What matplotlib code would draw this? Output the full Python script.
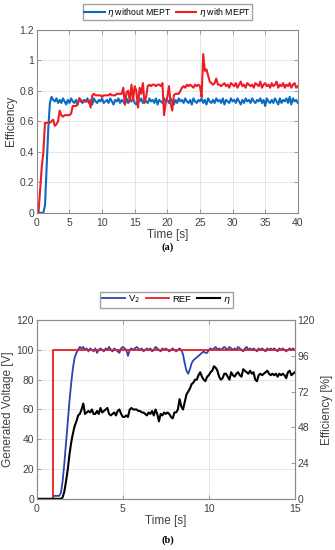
import numpy as np
from matplotlib import pyplot as plt

plt.rcParams['font.family'] = ['Liberation Sans', 'DejaVu Sans']
plt.rcParams['mathtext.fontset'] = 'dejavusans'

# ---- (a) efficiency with / without MEPT, sampled every 0.25 s ----
t_a = np.arange(0, 40.001, 0.25)

eta_without = [
    0, 0, 0, 0, 0, 0.05, 0.30, 0.55,
    0.72, 0.76, 0.74, 0.73, 0.75, 0.72, 0.74, 0.72,
    0.75, 0.73, 0.71, 0.74, 0.72, 0.75, 0.73, 0.72,
    0.74, 0.71, 0.75, 0.73, 0.72, 0.74, 0.73, 0.75,
    0.72, 0.74, 0.71, 0.75, 0.73, 0.72, 0.74, 0.73,
    0.75, 0.72, 0.73, 0.74, 0.72, 0.75, 0.73, 0.71,
    0.74, 0.73, 0.75, 0.72, 0.74, 0.73, 0.71, 0.75,
    0.72, 0.74, 0.73, 0.75, 0.72, 0.71, 0.74, 0.73,
    0.75, 0.72, 0.74, 0.73, 0.72, 0.75, 0.73, 0.74,
    0.72, 0.75, 0.71, 0.74, 0.73, 0.72, 0.75, 0.73,
    0.74, 0.72, 0.75, 0.73, 0.71, 0.74, 0.72, 0.75,
    0.73, 0.74, 0.72, 0.75, 0.73, 0.72, 0.74, 0.71,
    0.75, 0.73, 0.72, 0.74, 0.73, 0.75, 0.72, 0.74,
    0.71, 0.75, 0.73, 0.72, 0.74, 0.72, 0.75, 0.73,
    0.74, 0.72, 0.75, 0.71, 0.74, 0.73, 0.72, 0.75,
    0.73, 0.74, 0.72, 0.75, 0.73, 0.71, 0.74, 0.72,
    0.75, 0.73, 0.74, 0.72, 0.75, 0.73, 0.72, 0.74,
    0.73, 0.75, 0.72, 0.74, 0.70, 0.75, 0.73, 0.72,
    0.74, 0.72, 0.75, 0.73, 0.71, 0.75, 0.72, 0.74,
    0.73, 0.75, 0.72, 0.76, 0.71, 0.75, 0.73, 0.74,
    0.72,
]

eta_with = [
    0, 0, 0.15, 0.30, 0.40, 0.59, 0.59, 0.59,
    0.59, 0.60, 0.61, 0.57, 0.58, 0.60, 0.67, 0.64,
    0.63, 0.64, 0.64, 0.64, 0.64, 0.65, 0.70, 0.70,
    0.70, 0.71, 0.75, 0.74, 0.73, 0.73, 0.73, 0.73,
    0.73, 0.69, 0.77, 0.78, 0.77, 0.77, 0.77, 0.77,
    0.76, 0.77, 0.77, 0.77, 0.77, 0.78, 0.77, 0.77,
    0.77, 0.78, 0.78, 0.78, 0.78, 0.82, 0.71, 0.79,
    0.80, 0.73, 0.84, 0.74, 0.83, 0.80, 0.69, 0.82,
    0.78, 0.85, 0.72, 0.76, 0.83, 0.84, 0.83, 0.84,
    0.84, 0.83, 0.84, 0.84, 0.83, 0.85, 0.64, 0.72,
    0.76, 0.83, 0.72, 0.67, 0.77, 0.78, 0.78, 0.78,
    0.80, 0.82, 0.83, 0.82, 0.84, 0.83, 0.84, 0.83,
    0.82, 0.84, 0.83, 0.84, 0.83, 0.76, 1.04, 0.93,
    0.94, 0.90, 0.86, 0.85, 0.84, 0.85, 0.88, 0.84,
    0.84, 0.83, 0.84, 0.85, 0.83, 0.84, 0.82, 0.85,
    0.84, 0.83, 0.85, 0.82, 0.84, 0.86, 0.83, 0.84,
    0.82, 0.85, 0.84, 0.83, 0.84, 0.82, 0.85, 0.84,
    0.83, 0.86, 0.82, 0.84, 0.85, 0.83, 0.84, 0.82,
    0.85, 0.83, 0.84, 0.86, 0.82, 0.84, 0.83, 0.85,
    0.82, 0.84, 0.83, 0.85, 0.82, 0.84, 0.85, 0.82,
    0.83,
]

# ---- (b) generated voltage / reference / efficiency, sampled every 0.1 s ----
t_b = np.arange(0, 15.001, 0.1)

v2 = [
    0, 0, 0, 0, 0, 0, 0, 0, 0, 0,
    2, 2, 2, 2, 4, 12, 24, 38, 52, 66,
    78, 88, 95, 98, 100, 102, 101, 102, 100, 101,
    99, 101, 100, 99, 101, 98, 100, 101, 100, 99,
    101, 100, 102, 100, 99, 101, 100, 99, 98, 101,
    102, 101, 100, 96, 100, 101, 100, 101, 102, 101,
    100, 101, 99, 100, 101, 100, 101, 99, 100, 102,
    101, 100, 99, 101, 100, 101, 100, 99, 100, 101,
    100, 99, 100, 101, 100, 97, 91, 86, 84, 87,
    91, 93, 94, 95, 96, 97, 98, 99, 98, 98,
    100, 101, 100, 101, 102, 100, 101, 100, 101, 102,
    101, 100, 102, 101, 100, 101, 100, 102, 101, 100,
    99, 101, 102, 100, 101, 100, 101, 100, 99, 101,
    100, 101, 100, 99, 101, 100, 101, 100, 101, 100,
    99, 101, 100, 101, 100, 99, 100, 101, 100, 101,
    100,
]

t_ref = [0, 0.95, 0.95, 15]
v_ref = [0, 0, 100, 100]

eta_b = [
    0, 0, 0, 0, 0, 0, 0, 0, 0, 0,
    0, 0, 0, 0, 0, 1, 5, 12, 20, 30,
    38, 44, 49, 52, 56, 57, 60, 64, 57, 58,
    59, 58, 60, 57, 57, 59, 57, 61, 58, 59,
    60, 61, 57, 56, 57, 58, 56, 59, 60, 57,
    55, 55, 56, 55, 60, 61, 60, 60, 60, 59,
    59, 58, 58, 57, 56, 58, 57, 59, 56, 60,
    57, 52, 57, 56, 58, 57, 58, 57, 55, 54,
    58, 58, 60, 67, 62, 60, 65, 70, 72, 74,
    77, 78, 80, 80, 83, 85, 82, 80, 79, 82,
    83, 85, 86, 89, 88, 86, 82, 80, 81, 84,
    84, 82, 80, 85, 83, 82, 84, 85, 83, 82,
    87, 86, 85, 84, 86, 84, 85, 80, 79, 83,
    84, 83, 84, 85, 86, 84, 83, 84, 83, 84,
    82, 84, 83, 84, 83, 81, 85, 86, 83, 84,
    85,
]

blue_a = '#0a6cc0'
red = '#ee1c25'
blue_b = '#2a45b0'
grid_c = '#e6e6e6'
spine_c = '#8c8c8c'


def style(ax):
    ax.grid(True, color=grid_c, linewidth=0.7)
    ax.set_axisbelow(True)
    for s in ax.spines.values():
        s.set_color(spine_c)
        s.set_linewidth(0.8)
    ax.tick_params(direction='in', length=3, width=0.6, color=spine_c,
                   labelsize=7.5, labelcolor='#404040', pad=2)
    ax.tick_params(axis='x', pad=3.5)


fig = plt.figure(figsize=(3.35, 5.5), dpi=100)

# (a)
ax1 = fig.add_axes([0.110, 0.613, 0.779, 0.333])
ax1.plot(t_a, eta_without, color=blue_a, lw=1.5, label=r'$\eta$ without MEPT')
ax1.plot(t_a, eta_with, color=red, lw=1.5, label=r'$\eta$ with MEPT')
ax1.set_xlim(0, 40)
ax1.set_ylim(0, 1.2)
ax1.set_xticks(np.arange(0, 41, 5))
ax1.set_yticks(np.arange(0, 1.21, 0.2))
ax1.set_yticklabels(['0', '0.2', '0.4', '0.6', '0.8', '1', '1.2'])
style(ax1)
ax1.tick_params(right=True, top=True)
ax1.set_xlabel('Time [s]', fontsize=8.5, color='#404040', labelpad=1)
ax1.set_ylabel('Efficiency', fontsize=8.5, color='#404040', labelpad=2)
fig.legend(loc='center', bbox_to_anchor=(0.5, 0.978), ncol=2, fontsize=6.3,
           frameon=True, fancybox=False, edgecolor='#8c8c8c',
           handlelength=2.3, handletextpad=0.3, columnspacing=0.5,
           borderpad=0.15, labelspacing=0.1)
fig.text(0.5, 0.551, '(a)', ha='center', va='center', fontsize=7.5,
         family='Liberation Serif', fontweight='bold')

# (b)
ax2 = fig.add_axes([0.110, 0.093, 0.770, 0.325])
l1, = ax2.plot(t_b, v2, color=blue_b, lw=1.3, label='V$_2$', zorder=3)
l2, = ax2.plot(t_ref, v_ref, color=red, lw=1.3, label='REF', zorder=4)
ax2.set_xlim(0, 15)
ax2.set_ylim(0, 120)
ax2.set_xticks([0, 5, 10, 15])
ax2.set_yticks(np.arange(0, 121, 20))
style(ax2)
ax2.tick_params(top=True)
ax2.set_xlabel('Time [s]', fontsize=8.5, color='#404040', labelpad=1)
ax2.set_ylabel('Generated Voltage [V]', fontsize=8.5, color='#404040', labelpad=2)

ax3 = ax2.twinx()
l3, = ax3.plot(t_b, eta_b, color='black', lw=1.5, label=r'$\eta$')
ax3.set_ylim(0, 120)
ax3.set_yticks(np.arange(0, 121, 24))
style(ax3)
ax3.grid(False)
ax3.set_ylabel('Efficiency [%]', fontsize=8.5, color='#404040', labelpad=4)

fig.legend(handles=[l1, l2, l3], loc='center', bbox_to_anchor=(0.496, 0.455),
           ncol=3, fontsize=6.8, frameon=True, fancybox=False,
           edgecolor='#8c8c8c', handlelength=2.5, handletextpad=0.3,
           columnspacing=0.6, borderpad=0.2)
fig.text(0.5, 0.018, '(b)', ha='center', va='center', fontsize=7.5,
         family='Liberation Serif', fontweight='bold')

fig.savefig('out.png', dpi=100)
